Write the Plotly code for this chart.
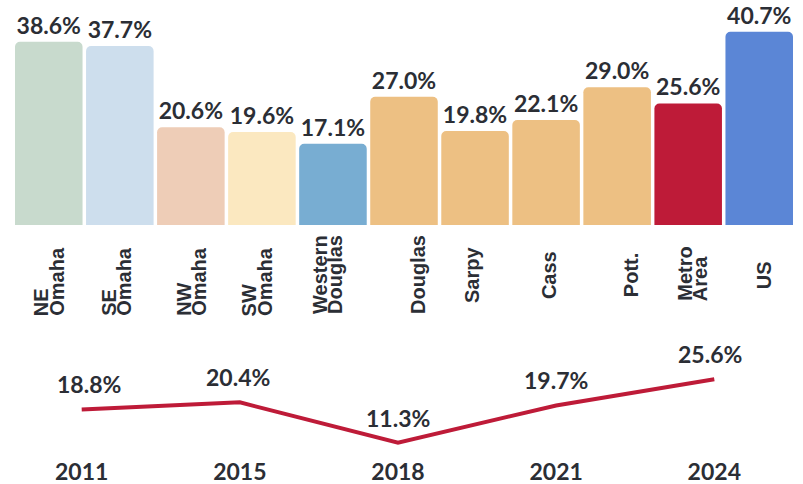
import plotly.graph_objects as go

# ---------------- data ----------------
category_lines = [["NE", "Omaha"], ["SE", "Omaha"], ["NW", "Omaha"], ["SW", "Omaha"],
                  ["Western", "Douglas"], ["Douglas"], ["Sarpy"], ["Cass"], ["Pott."],
                  ["Metro", "Area"], ["US"]]
categories = [" ".join(c) for c in category_lines]
values = [38.6, 37.7, 20.6, 19.6, 17.1, 27.0, 19.8, 22.1, 29.0, 25.6, 40.7]
bar_colors = ["#c8dacd", "#cddeed", "#eecdb7", "#fbe8c0", "#78add2",
              "#edc083", "#edc083", "#edc083", "#edc083", "#be1b38", "#5b86d6"]

years = ["2011", "2015", "2018", "2021", "2024"]
trend = [18.8, 20.4, 11.3, 19.7, 25.6]

# ---------------- layout helpers ----------------
W, H = 803, 484
TEXT = "#2b2e35"
RED = "#be1b38"


def py(p):  # pixel row -> paper y
    return 1 - p / H


# category label tweaks (pixel offsets / anchors)
label_dx = [0, -4, 0, -5, -6, 14, -3, 3, 14, 4, 5]
label_bottom = [318, 318, 318, 318, 316, None, None, None, None, 303, None]
single_center = 275
line_step = 15
trend_label_dx = [7, -2, 0, 0, -4]

bar_px_per_unit = 4.749
bar_base_px = 225
line_px_per_unit = 4.434
line_zero_px = 492.8
line_dom_top, line_dom_bot = 330, 456

NUM_FONT = dict(family="Lato", size=23, color=TEXT, weight="bold")

fig = go.Figure()

fig.add_trace(go.Bar(
    x=categories, y=values,
    marker=dict(color=bar_colors, line=dict(width=0)),
    text=[f"{v:.1f}%" for v in values],
    textposition="outside",
    constraintext="none",
    cliponaxis=False,
    textfont=NUM_FONT,
    hoverinfo="skip",
    xaxis="x", yaxis="y",
))

fig.add_trace(go.Scatter(
    x=years, y=trend,
    mode="lines",
    line=dict(color=RED, width=4),
    hoverinfo="skip",
    xaxis="x2", yaxis="y2",
))

annotations = []
for i, lines in enumerate(category_lines):
    n = len(lines)
    for j, ln in enumerate(lines):
        if n == 1:
            y = py(single_center)
            yanchor = "middle"
        else:
            y = py(label_bottom[i])
            yanchor = "bottom"
        annotations.append(dict(
            x=i, xref="x", y=y, yref="paper",
            text=ln, showarrow=False, textangle=-90,
            xanchor="center", yanchor=yanchor,
            xshift=label_dx[i] + (j - (n - 1) / 2) * line_step,
            font=dict(family="Liberation Sans", size=20, color=TEXT, weight="bold"),
        ))

for i, v in enumerate(trend):
    annotations.append(dict(
        x=i, y=v, xref="x2", yref="y2",
        text=f"{v:.1f}%", showarrow=False,
        yshift=25, xshift=trend_label_dx[i],
        xanchor="center", yanchor="middle",
        font=NUM_FONT,
    ))

x_slot = 71
x0 = 48.75 - x_slot / 2
x1 = 759.25 + x_slot / 2

lx0, lx_step = 81.7, 158.15

fig.update_layout(
    width=W, height=H,
    margin=dict(l=0, r=0, t=0, b=0),
    paper_bgcolor="white", plot_bgcolor="white",
    showlegend=False,
    bargap=3.5 / 71,
    barcornerradius=5,
    annotations=annotations,
    xaxis=dict(domain=[x0 / W, x1 / W], type="category", range=[-0.5, 10.5],
               showticklabels=False, showgrid=False, zeroline=False, showline=False,
               anchor="y", fixedrange=True),
    yaxis=dict(domain=[py(bar_base_px), 1], range=[0, bar_base_px / bar_px_per_unit],
               visible=False, fixedrange=True),
    xaxis2=dict(domain=[0, 1], type="category",
                range=[-lx0 / lx_step, (W - lx0) / lx_step],
                showgrid=False, zeroline=False, showline=False, ticks="",
                tickfont=NUM_FONT,
                anchor="y2", fixedrange=True),
    yaxis2=dict(domain=[py(line_dom_bot), py(line_dom_top)],
                range=[(line_zero_px - line_dom_bot) / line_px_per_unit,
                       (line_zero_px - line_dom_top) / line_px_per_unit],
                visible=False, fixedrange=True),
)

fig.write_html("out.html", config={"displayModeBar": False},
               post_script="document.body.style.margin='0';")
